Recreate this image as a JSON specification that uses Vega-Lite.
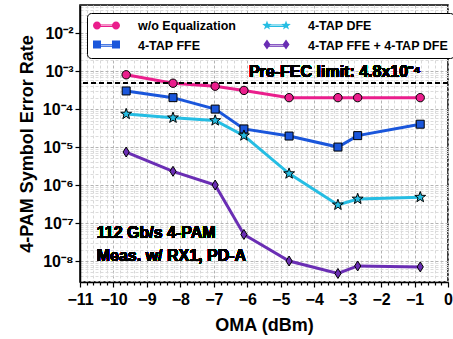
{
"$schema": "https://vega.github.io/schema/vega-lite/v6.json",
"width": 368, "height": 277,
"autosize": {"type": "none"},
"padding": {"left": 80, "top": 5, "right": 5, "bottom": 57},
"background": "white",
"data": {"values": [
{"series": "w/o Equalization", "x": -9.62, "y": 8e-4},
{"series": "w/o Equalization", "x": -8.22, "y": 4.8e-4},
{"series": "w/o Equalization", "x": -6.96, "y": 4e-4},
{"series": "w/o Equalization", "x": -6.1, "y": 3.1e-4},
{"series": "w/o Equalization", "x": -4.75, "y": 2e-4},
{"series": "w/o Equalization", "x": -3.29, "y": 2e-4},
{"series": "w/o Equalization", "x": -2.7, "y": 2e-4},
{"series": "w/o Equalization", "x": -0.83, "y": 2e-4},
{"series": "4-TAP FFE", "x": -9.62, "y": 3e-4},
{"series": "4-TAP FFE", "x": -8.22, "y": 2e-4},
{"series": "4-TAP FFE", "x": -6.96, "y": 1e-4},
{"series": "4-TAP FFE", "x": -6.1, "y": 3e-5},
{"series": "4-TAP FFE", "x": -4.75, "y": 1.95e-5},
{"series": "4-TAP FFE", "x": -3.29, "y": 1e-5},
{"series": "4-TAP FFE", "x": -2.7, "y": 2e-5},
{"series": "4-TAP FFE", "x": -0.83, "y": 4e-5},
{"series": "4-TAP DFE", "x": -9.62, "y": 7.4e-5},
{"series": "4-TAP DFE", "x": -8.22, "y": 5.9e-5},
{"series": "4-TAP DFE", "x": -6.96, "y": 5e-5},
{"series": "4-TAP DFE", "x": -6.1, "y": 2e-5},
{"series": "4-TAP DFE", "x": -4.75, "y": 2e-6},
{"series": "4-TAP DFE", "x": -3.29, "y": 3e-7},
{"series": "4-TAP DFE", "x": -2.7, "y": 4.3e-7},
{"series": "4-TAP DFE", "x": -0.83, "y": 4.8e-7},
{"series": "4-TAP FFE + 4-TAP DFE", "x": -9.62, "y": 7.4e-6},
{"series": "4-TAP FFE + 4-TAP DFE", "x": -8.22, "y": 2.3e-6},
{"series": "4-TAP FFE + 4-TAP DFE", "x": -6.96, "y": 1e-6},
{"series": "4-TAP FFE + 4-TAP DFE", "x": -6.1, "y": 5e-8},
{"series": "4-TAP FFE + 4-TAP DFE", "x": -4.75, "y": 1e-8},
{"series": "4-TAP FFE + 4-TAP DFE", "x": -3.29, "y": 4.7e-9},
{"series": "4-TAP FFE + 4-TAP DFE", "x": -2.7, "y": 7.4e-9},
{"series": "4-TAP FFE + 4-TAP DFE", "x": -0.83, "y": 7e-9}
]},
"config": {
  "view": {"stroke": "black", "strokeWidth": 1.5},
  "font": "Liberation Sans",
  "axis": {"domainColor": "black", "domainWidth": 1.5, "tickColor": "black", "tickWidth": 1.2,
    "labelFont": "Liberation Sans", "labelFontWeight": "bold", "labelColor": "black",
    "titleFont": "Liberation Sans", "titleFontWeight": "bold", "titleColor": "black",
    "gridDash": [3, 2]}
},
"layer": [
  {
    "mark": {"type": "line", "strokeWidth": 3},
    "encoding": {
      "x": {"field": "x", "type": "quantitative",
        "scale": {"domain": [-11, 0], "nice": false, "zero": false},
        "axis": {"title": "OMA (dBm)", "titleFontSize": 18, "titlePadding": 9, "tickCount": 300,
          "values": [-11,-10.8,-10.6,-10.4,-10.2,-10,-9.8,-9.6,-9.4,-9.2,-9,-8.8,-8.6,-8.4,-8.2,-8,-7.8,-7.6,-7.4,-7.2,-7,-6.8,-6.6,-6.4,-6.2,-6,-5.8,-5.6,-5.4,-5.2,-5,-4.8,-4.6,-4.4,-4.2,-4,-3.8,-3.6,-3.4,-3.2,-3,-2.8,-2.6,-2.4,-2.2,-2,-1.8,-1.6,-1.4,-1.2,-1,-0.8,-0.6,-0.4,-0.2,0],
          "labelExpr": "abs(datum.value - round(datum.value)) < 0.01 ? format(round(datum.value), 'd') : ''",
          "labelFontSize": 16, "labelPadding": 4, "labelFlush": false, "labelOverlap": false,
          "tickSize": {"condition": {"test": "abs(datum.value - round(datum.value)) < 0.01", "value": 5}, "value": 3},
          "gridColor": {"condition": {"test": "abs(datum.value - round(datum.value)) < 0.01", "value": "#b4b4b4"}, "value": "#d8d8d8"}
        }},
      "y": {"field": "y", "type": "quantitative",
        "scale": {"type": "log", "domain": [2.8e-9, 0.055], "nice": false},
        "axis": {"title": "4-PAM Symbol Error Rate", "titleFontSize": 18, "titlePadding": 6, "tickCount": 300,
          "values": [3e-9,4e-9,5e-9,6e-9,7e-9,8e-9,9e-9,1e-8,2e-8,3e-8,4e-8,5e-8,6e-8,7e-8,8e-8,9e-8,1e-7,2e-7,3e-7,4e-7,5e-7,6e-7,7e-7,8e-7,9e-7,1e-6,2e-6,3e-6,4e-6,5e-6,6e-6,7e-6,8e-6,9e-6,1e-5,2e-5,3e-5,4e-5,5e-5,6e-5,7e-5,8e-5,9e-5,1e-4,2e-4,3e-4,4e-4,5e-4,6e-4,7e-4,8e-4,9e-4,1e-3,2e-3,3e-3,4e-3,5e-3,6e-3,7e-3,8e-3,9e-3,1e-2,2e-2,3e-2,4e-2,5e-2],
          "labelExpr": "abs(log(datum.value)/LN10 - round(log(datum.value)/LN10)) < 0.001 ? '10⁻' + ['⁰','¹','²','³','⁴','⁵','⁶','⁷','⁸','⁹'][-round(log(datum.value)/LN10)] : ''",
          "labelFontSize": 16, "labelPadding": 2, "labelOverlap": false,
          "tickSize": {"condition": {"test": "abs(log(datum.value)/LN10 - round(log(datum.value)/LN10)) < 0.001", "value": 5}, "value": 0},
          "gridColor": {"condition": {"test": "abs(log(datum.value)/LN10 - round(log(datum.value)/LN10)) < 0.001", "value": "#b4b4b4"}, "value": "#dcdcdc"}
        }},
      "color": {"field": "series", "type": "nominal",
        "sort": ["w/o Equalization", "4-TAP FFE", "4-TAP DFE", "4-TAP FFE + 4-TAP DFE"],
        "scale": {"range": ["#EA1E8C", "#1A56DB", "#25BDE3", "#6A2EB4"]},
        "legend": {"title": null, "orient": "none", "legendX": 7, "legendY": 8, "columns": 2, "zindex": 1,
          "fillColor": "white", "strokeColor": "black", "cornerRadius": 4, "padding": 5,
          "symbolType": "M-1.95,-0.72L-1.95,-0.72M1.95,0.72L1.95,0.72M-1.36,-0.11L1.36,-0.11L1.36,0.11L-1.36,0.11Z",
          "symbolSize": 196, "symbolStrokeWidth": 1, "symbolOffset": 7,
          "labelFont": "Liberation Sans", "labelFontSize": 12.5, "labelFontWeight": "bold", "labelColor": "black",
          "labelOffset": 24, "columnPadding": 24, "rowPadding": 5, "labelLimit": 300}}
    }
  },
  {
    "mark": {"type": "rule", "color": "black", "strokeWidth": 1.5, "strokeDash": [5, 3]},
    "encoding": {"y": {"datum": 4.8e-4, "type": "quantitative"}}
  },
  {
    "transform": [{"filter": {"field": "series", "equal": "w/o Equalization"}}],
    "mark": {"type": "point", "filled": true, "fill": "#EA1E8C", "stroke": "black", "strokeWidth": 1, "opacity": 1, "shape": "circle", "size": 70},
    "encoding": {"x": {"field": "x", "type": "quantitative"}, "y": {"field": "y", "type": "quantitative"}}
  },
  {
    "transform": [{"filter": {"field": "series", "equal": "4-TAP FFE"}}],
    "mark": {"type": "point", "filled": true, "fill": "#1A56DB", "stroke": "black", "strokeWidth": 1, "opacity": 1, "shape": "square", "size": 64},
    "encoding": {"x": {"field": "x", "type": "quantitative"}, "y": {"field": "y", "type": "quantitative"}}
  },
  {
    "transform": [{"filter": {"field": "series", "equal": "4-TAP DFE"}}],
    "mark": {"type": "point", "filled": true, "fill": "#25BDE3", "stroke": "black", "strokeWidth": 1, "opacity": 1, "size": 130,
      "shape": "M0,-1L0.235,-0.324L0.951,-0.309L0.38,0.124L0.588,0.809L0,0.4L-0.588,0.809L-0.38,0.124L-0.951,-0.309L-0.235,-0.324Z"},
    "encoding": {"x": {"field": "x", "type": "quantitative"}, "y": {"field": "y", "type": "quantitative"}}
  },
  {
    "transform": [{"filter": {"field": "series", "equal": "4-TAP FFE + 4-TAP DFE"}}],
    "mark": {"type": "point", "filled": true, "fill": "#6A2EB4", "stroke": "black", "strokeWidth": 1, "opacity": 1, "size": 100,
      "shape": "M0,-1L0.62,0L0,1L-0.62,0Z"},
    "encoding": {"x": {"field": "x", "type": "quantitative"}, "y": {"field": "y", "type": "quantitative"}}
  },
  {
    "mark": {"type": "point", "filled": true, "stroke": "black", "strokeWidth": 1, "opacity": 0},
    "encoding": {
      "x": {"field": "x", "type": "quantitative"},
      "y": {"field": "y", "type": "quantitative"},
      "fill": {"field": "series", "type": "nominal",
        "scale": {"domain": ["w/o Equalization", "4-TAP FFE", "4-TAP DFE", "4-TAP FFE + 4-TAP DFE"],
                  "range": ["#EA1E8C", "#1A56DB", "#25BDE3", "#6A2EB4"]},
        "legend": {"title": null, "orient": "none", "legendX": 7, "legendY": 8, "columns": 2, "zindex": 2,
          "fillColor": "transparent", "strokeColor": "transparent", "padding": 5,
          "symbolSize": 196, "symbolStrokeWidth": 1, "symbolStrokeColor": "black", "symbolOpacity": 1, "symbolOffset": 7,
          "labelFont": "Liberation Sans", "labelFontSize": 12.5, "labelFontWeight": "bold", "labelColor": "transparent",
          "labelOffset": 24, "columnPadding": 24, "rowPadding": 5, "labelLimit": 300}},
      "shape": {"field": "series", "type": "nominal",
        "scale": {"domain": ["w/o Equalization", "4-TAP FFE", "4-TAP DFE", "4-TAP FFE + 4-TAP DFE"],
                  "range": [
                    "M-1.928,0a0.571,0.571 0 1,0 1.142,0a0.571,0.571 0 1,0 -1.142,0M0.786,0a0.571,0.571 0 1,0 1.142,0a0.571,0.571 0 1,0 -1.142,0",
                    "M-1.928,-0.571h1.142v1.142h-1.142zM0.786,-0.571h1.142v1.142h-1.142z",
                    "M-1.36,-0.72L-1.19,-0.234L-0.676,-0.222L-1.084,0.09L-0.936,0.582L-1.36,0.29L-1.784,0.582L-1.636,0.09L-2.044,-0.222L-1.53,-0.234ZM1.36,-0.72L1.53,-0.234L2.044,-0.222L1.636,0.09L1.784,0.582L1.36,0.29L0.936,0.582L1.084,0.09L0.676,-0.222L1.19,-0.234Z",
                    "M-1.36,-0.72L-0.86,0L-1.36,0.72L-1.86,0ZM1.36,-0.72L1.86,0L1.36,0.72L0.86,0Z"]},
        "legend": {"title": null, "orient": "none", "legendX": 7, "legendY": 8, "columns": 2, "zindex": 2,
          "fillColor": "transparent", "strokeColor": "transparent", "padding": 5,
          "symbolSize": 196, "symbolStrokeWidth": 1, "symbolStrokeColor": "black", "symbolOpacity": 1, "symbolOffset": 7,
          "labelFont": "Liberation Sans", "labelFontSize": 12.5, "labelFontWeight": "bold", "labelColor": "transparent",
          "labelOffset": 24, "columnPadding": 24, "rowPadding": 5, "labelLimit": 300}}
    }
  },
  {
    "mark": {"type": "text", "align": "left", "baseline": "alphabetic", "dy": -6, "font": "Liberation Sans", "fontWeight": "bold", "fontSize": 16, "color": "black"},
    "encoding": {"x": {"datum": -5.95, "type": "quantitative"}, "y": {"datum": 4.8e-4, "type": "quantitative"}, "text": {"value": "Pre-FEC limit: 4.8x10⁻⁴"}}
  },
  {
    "mark": {"type": "text", "align": "left", "baseline": "alphabetic", "font": "Liberation Sans", "fontWeight": "bold", "fontSize": 16, "lineHeight": 23, "color": "black"},
    "encoding": {"x": {"datum": -10.5, "type": "quantitative"}, "y": {"datum": 3.95e-8, "type": "quantitative"}, "text": {"value": ["112 Gb/s 4-PAM", "Meas. w/ RX1, PD-A"]}}
  }
]
}
